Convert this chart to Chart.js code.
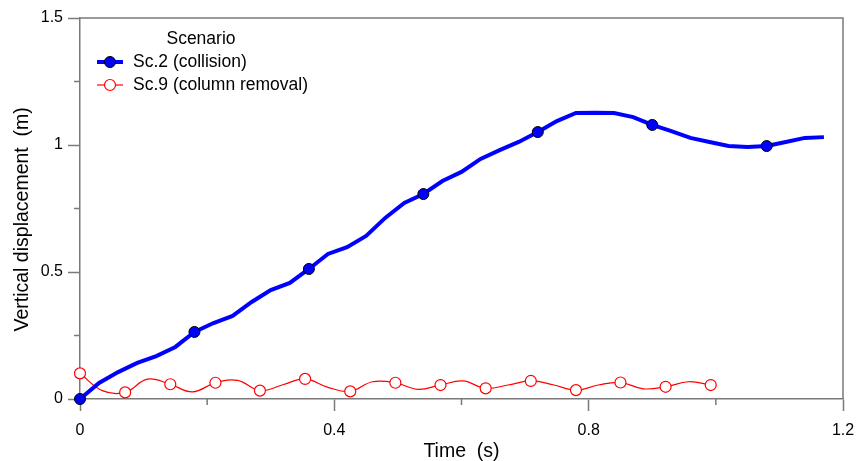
<!DOCTYPE html>
<html>
<head>
<meta charset="utf-8">
<script src="https://cdn.jsdelivr.net/npm/chart.js"></script>
<style>
  html, body { margin: 0; padding: 0; background: #fff; }
  #wrap { width: 857px; height: 461px; }
</style>
</head>
<body>
<div id="wrap"><canvas id="chart" width="857" height="461"></canvas></div>
<script>
// data
const collisionTimes = [0, 0.03, 0.06, 0.09, 0.12, 0.15, 0.18, 0.21, 0.24, 0.27, 0.30, 0.33, 0.36, 0.39,
    0.42, 0.45, 0.48, 0.51, 0.54, 0.57, 0.60, 0.63, 0.66, 0.69, 0.72, 0.75, 0.78, 0.81, 0.84, 0.87,
    0.90, 0.93, 0.96, 0.99, 1.02, 1.05, 1.08, 1.11, 1.14, 1.17];
const collisionValues = [0, 0.063, 0.106, 0.142, 0.169, 0.205, 0.264, 0.299, 0.327, 0.382, 0.429, 0.457,
    0.512, 0.571, 0.598, 0.642, 0.713, 0.772, 0.807, 0.858, 0.894, 0.945, 0.980, 1.012, 1.051, 1.094,
    1.126, 1.127, 1.126, 1.110, 1.079, 1.055, 1.028, 1.012, 0.996, 0.992, 0.996, 1.012, 1.028, 1.031];

const removalTimes = [0, 0.035, 0.071, 0.106, 0.142, 0.177, 0.213, 0.248, 0.283, 0.319, 0.354, 0.390,
    0.425, 0.460, 0.496, 0.531, 0.567, 0.602, 0.638, 0.673, 0.709, 0.744, 0.780, 0.815, 0.850, 0.886,
    0.921, 0.957, 0.992];
const removalValues = [0.101, 0.033, 0.026, 0.078, 0.058, 0.028, 0.064, 0.073, 0.033, 0.056, 0.079, 0.046,
    0.030, 0.068, 0.064, 0.038, 0.055, 0.071, 0.042, 0.055, 0.071, 0.056, 0.035, 0.055, 0.065, 0.040,
    0.048, 0.068, 0.055];

const seriesNames = ["Sc.2 (collision)", "Sc.9 (column removal)"];
const legendTitle = "Scenario";

const xTicks = [0, 0.4, 0.8, 1.2];
const xMinorTicks = [0.2, 0.6, 1.0];
const yTicks = [0, 0.5, 1, 1.5];
const yMinorTicks = [0.25, 0.75, 1.25];

const FONT = "'Liberation Sans', Arial, sans-serif";
const AXIS = "#7a7a7a";

function toXY(xs, ys) {
    return xs.map((x, i) => ({ x: x, y: ys[i] }));
}

// frame on top/right, minor ticks and the legend
const extras = {
    id: "extras",
    afterDraw(chart) {
        const ctx = chart.ctx;
        const a = chart.chartArea;
        const xs = chart.scales.x, ys = chart.scales.y;
        ctx.save();
        ctx.strokeStyle = AXIS;
        ctx.lineWidth = 1.5;
        ctx.beginPath();
        ctx.moveTo(a.left, a.top);
        ctx.lineTo(a.right, a.top);
        ctx.lineTo(a.right, a.bottom);
        ctx.stroke();
        ctx.beginPath();
        xMinorTicks.forEach(v => {
            const px = xs.getPixelForValue(v);
            ctx.moveTo(px, a.bottom);
            ctx.lineTo(px, a.bottom + 6);
        });
        yMinorTicks.forEach(v => {
            const py = ys.getPixelForValue(v);
            ctx.moveTo(a.left, py);
            ctx.lineTo(a.left - 6, py);
        });
        ctx.stroke();

        // legend
        ctx.fillStyle = "#000";
        ctx.font = "17.5px " + FONT;
        ctx.textBaseline = "middle";
        ctx.textAlign = "center";
        ctx.fillText(legendTitle, 201, 39);
        ctx.textAlign = "left";
        const rows = [62, 85];
        chart.data.datasets.forEach((ds, i) => {
            const y = rows[i];
            ctx.strokeStyle = ds.borderColor;
            ctx.lineWidth = ds.borderWidth;
            ctx.beginPath();
            ctx.moveTo(97, y);
            ctx.lineTo(123, y);
            ctx.stroke();
            ctx.beginPath();
            ctx.arc(110, y, 5.5, 0, Math.PI * 2);
            ctx.fillStyle = ds.pointBackgroundColor;
            ctx.fill();
            ctx.strokeStyle = ds.pointBorderColor;
            ctx.lineWidth = ds.pointBorderWidth;
            ctx.stroke();
            ctx.fillStyle = "#000";
            ctx.fillText(seriesNames[i], 133, y);
        });
        ctx.restore();
    }
};

new Chart(document.getElementById("chart"), {
    type: "line",
    data: {
        datasets: [{
            label: seriesNames[0],
            data: toXY(collisionTimes, collisionValues),
            borderColor: "#0000ff",
            borderWidth: 4,
            tension: 0,
            pointRadius: ctx => (ctx.dataIndex % 6 === 0 ? 5.5 : 0),
            pointHoverRadius: 0,
            pointBackgroundColor: "#0000ff",
            pointBorderColor: "#000000",
            pointBorderWidth: 1,
            clip: false
        }, {
            label: seriesNames[1],
            data: toXY(removalTimes, removalValues),
            borderColor: "#ff0000",
            borderWidth: 1.2,
            tension: 0.4,
            pointRadius: ctx => (ctx.dataIndex % 2 === 0 ? 5.5 : 0),
            pointHoverRadius: 0,
            pointBackgroundColor: "#ffffff",
            pointBorderColor: "#ff0000",
            pointBorderWidth: 1.2,
            clip: false
        }]
    },
    options: {
        responsive: false,
        animation: false,
        events: [],
        layout: { padding: { left: 0, right: 14, top: 18, bottom: 0 } },
        plugins: { legend: { display: false }, tooltip: { enabled: false } },
        scales: {
            x: {
                type: "linear",
                min: 0,
                max: 1.2,
                afterFit: s => { s.height = 62; s.paddingLeft = 0; s.paddingRight = 0; },
                afterBuildTicks: s => { s.ticks = xTicks.map(v => ({ value: v })); },
                ticks: {
                    color: "#000",
                    font: { family: FONT, size: 16 },
                    padding: 10,
                    maxRotation: 0,
                    callback: v => String(v)
                },
                grid: { drawOnChartArea: false, drawTicks: true, tickLength: 12, tickColor: AXIS, tickWidth: 1.5 },
                border: { display: true, color: AXIS, width: 1.5 },
                title: {
                    display: true,
                    text: "Time  (s)",
                    color: "#000",
                    font: { family: FONT, size: 19.5, lineHeight: 1 },
                    padding: { top: 0, bottom: 0 }
                }
            },
            y: {
                type: "linear",
                min: 0,
                max: 1.5,
                afterFit: s => { s.width = 80; s.paddingTop = 0; s.paddingBottom = 0; },
                afterBuildTicks: s => { s.ticks = yTicks.map(v => ({ value: v })); },
                ticks: {
                    color: "#000",
                    font: { family: FONT, size: 16 },
                    padding: 5,
                    callback: v => String(v)
                },
                grid: { drawOnChartArea: false, drawTicks: true, tickLength: 12, tickColor: AXIS, tickWidth: 1.5 },
                border: { display: true, color: AXIS, width: 1.5 },
                title: {
                    display: true,
                    text: "Vertical displacement  (m)\u00a0\u00a0\u00a0\u00a0",
                    color: "#000",
                    font: { family: FONT, size: 19.5 },
                    padding: { top: 11, bottom: 0 }
                }
            }
        }
    },
    plugins: [extras]
});
</script>
</body>
</html>
